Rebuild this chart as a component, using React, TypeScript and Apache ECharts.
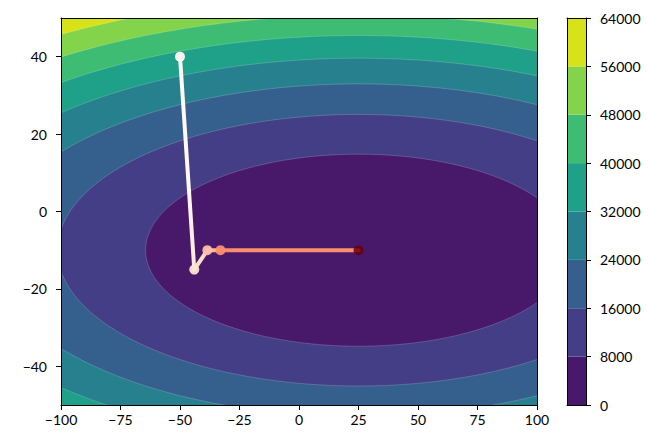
import React, { useEffect, useRef } from "react";
import * as echarts from "echarts";

// Contour levels and viridis band colours (one colour per band between levels)
const LEVELS = [0, 8000, 16000, 24000, 32000, 40000, 48000, 56000, 64000];
const BAND_COLORS = ["#48186a", "#433e85", "#355f8d", "#27808e", "#1fa088", "#3fbc73", "#84d44b", "#d8e219"];

// Loss surface: f(x, y) = WEIGHTS[0]*(x - CENTER[0])^2 + WEIGHTS[1]*(y - CENTER[1])^2
const CENTER = [25, -10];
const WEIGHTS = [1, 13];

// Optimisation path
const PATH_X = [-50, -44, -38.5, -33, 25];
const PATH_Y = [40, -15, -10, -10, -10];
const POINT_COLORS = ["#fff5f0", "#fee3d6", "#fcbea5", "#fc8f70", "#67000d"];
const SEGMENT_START_COLORS = ["#fff8f4", "#fedccc", "#fcb89d", "#fc8d6f"];
const SEGMENT_END_COLORS = ["#fee6da", "#fcc6af", "#fc9d7f", "#fc8d6f"];

const X_MIN = -100, X_MAX = 100, X_STEP = 25;
const Y_MIN = -50, Y_MAX = 50;
const Y_TICKS = [-40, -20, 0, 20, 40];

const FONT = "Lato";
const minus = (v: number) => (v < 0 ? "\u2212" + Math.abs(v) : String(v));

export default function App() {
  const ref = useRef<HTMLDivElement>(null);
  useEffect(() => {
    if (!ref.current) return;
    const chart = echarts.init(ref.current, undefined, { renderer: "svg" });

    const axisLine = { show: true, onZero: false, lineStyle: { color: "#000", width: 1 } };
    const tick = { show: true, inside: false, length: 5, lineStyle: { color: "#000", width: 1 } };
    const label = { color: "#000", fontFamily: FONT, fontSize: 14 };
    const off = { axisTick: { show: false }, axisLabel: { show: false }, splitLine: { show: false } };

    const contourData = [];
    for (let i = LEVELS.length - 1; i >= 1; i--) contourData.push([LEVELS[i], i - 1]);

    const segData = [];
    for (let i = 0; i < PATH_X.length - 1; i++) segData.push([PATH_X[i], PATH_Y[i], PATH_X[i + 1], PATH_Y[i + 1], i]);

    const barData = [];
    for (let i = 0; i < LEVELS.length - 1; i++) barData.push([LEVELS[i], LEVELS[i + 1], i]);

    chart.setOption({
      animation: false,
      grid: [
        { left: 61, top: 18, width: 476, height: 387 },
        { left: 567, top: 18, width: 19, height: 387 },
      ],
      xAxis: [
        {
          gridIndex: 0, type: "value", min: X_MIN, max: X_MAX, interval: X_STEP, position: "bottom", z: 10,
          axisLine, axisTick: tick, splitLine: { show: false },
          axisLabel: { ...label, margin: 7, formatter: minus },
        },
        { gridIndex: 0, type: "value", min: X_MIN, max: X_MAX, position: "top", z: 10, axisLine, ...off },
        { gridIndex: 1, type: "value", min: 0, max: 1, position: "bottom", z: 10, axisLine, ...off },
        { gridIndex: 1, type: "value", min: 0, max: 1, position: "top", z: 10, axisLine, ...off },
      ],
      yAxis: [
        {
          gridIndex: 0, type: "value", min: Y_MIN, max: Y_MAX, position: "left", z: 10,
          axisLine, splitLine: { show: false },
          axisTick: { ...tick, customValues: Y_TICKS },
          axisLabel: { ...label, margin: 14, formatter: minus, customValues: Y_TICKS },
        },
        { gridIndex: 0, type: "value", min: Y_MIN, max: Y_MAX, position: "right", z: 10, axisLine, ...off },
        {
          gridIndex: 1, type: "value", min: LEVELS[0], max: LEVELS[LEVELS.length - 1], interval: 8000,
          position: "right", z: 10, axisLine, axisTick: tick, splitLine: { show: false },
          axisLabel: { ...label, margin: 14, align: "left", formatter: (v: number) => String(v) },
        },
        {
          gridIndex: 1, type: "value", min: LEVELS[0], max: LEVELS[LEVELS.length - 1],
          position: "left", z: 10, axisLine, ...off,
        },
      ],
      series: [
        {
          type: "custom",
          xAxisIndex: 0,
          yAxisIndex: 0,
          clip: true,
          z: 1,
          data: contourData,
          renderItem: (params: any, api: any) => {
            const level = api.value(0);
            const color = BAND_COLORS[api.value(1)];
            const rx = Math.sqrt(level / WEIGHTS[0]);
            const ry = Math.sqrt(level / WEIGHTS[1]);
            const n = 360;
            const pts = [];
            for (let k = 0; k < n; k++) {
              const t = (2 * Math.PI * k) / n;
              pts.push(api.coord([CENTER[0] + rx * Math.cos(t), CENTER[1] + ry * Math.sin(t)]));
            }
            return {
              type: "polygon",
              shape: { points: pts },
              style: { fill: color, stroke: "rgba(255,255,255,0.3)", lineWidth: 0.6 },
            };
          },
        },
        {
          type: "custom",
          xAxisIndex: 0,
          yAxisIndex: 0,
          z: 3,
          data: segData,
          renderItem: (params: any, api: any) => {
            const p0 = api.coord([api.value(0), api.value(1)]);
            const p1 = api.coord([api.value(2), api.value(3)]);
            const i = api.value(4);
            return {
              type: "line",
              shape: { x1: p0[0], y1: p0[1], x2: p1[0], y2: p1[1] },
              style: {
                stroke: new echarts.graphic.LinearGradient(p0[0], p0[1], p1[0], p1[1] + 0.001, [
                  { offset: 0, color: SEGMENT_START_COLORS[i] },
                  { offset: 0.6, color: SEGMENT_START_COLORS[i] },
                  { offset: 1, color: SEGMENT_END_COLORS[i] },
                ], true),
                lineWidth: 4,
                lineCap: "round",
              },
            };
          },
        },
        {
          type: "scatter",
          xAxisIndex: 0,
          yAxisIndex: 0,
          z: 4,
          symbol: "circle",
          symbolSize: 10,
          data: PATH_X.map((x, i) => ({
            value: [x, PATH_Y[i]],
            itemStyle: { color: POINT_COLORS[i], opacity: i === PATH_X.length - 1 ? 0.85 : 0.95 },
          })),
        },
        {
          type: "custom",
          xAxisIndex: 2,
          yAxisIndex: 2,
          z: 1,
          data: barData,
          renderItem: (params: any, api: any) => {
            const a = api.coord([0, api.value(1)]);
            const b = api.coord([1, api.value(0)]);
            return {
              type: "rect",
              shape: { x: a[0], y: a[1], width: b[0] - a[0], height: b[1] - a[1] },
              style: { fill: BAND_COLORS[api.value(2)] },
            };
          },
        },
      ],
    });
    return () => chart.dispose();
  }, []);
  return (
    <div
      ref={ref}
      style={{ position: "fixed", left: 0, top: 0, width: 648, height: 432, background: "#fff" }}
    />
  );
}
